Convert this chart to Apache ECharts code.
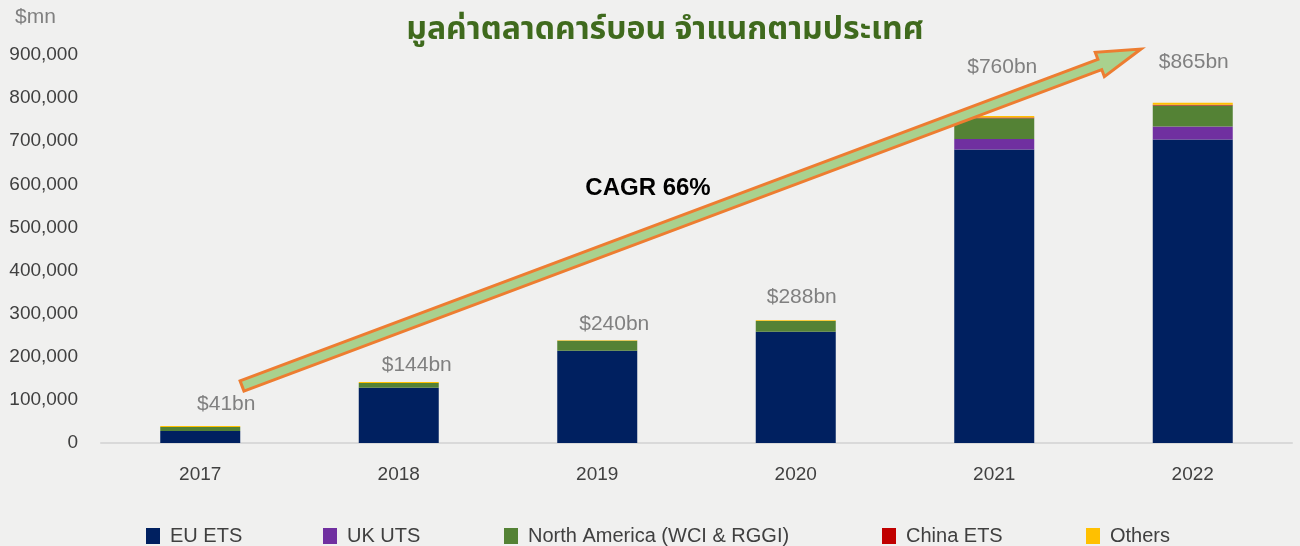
<!DOCTYPE html>
<html>
<head>
<meta charset="utf-8">
<script src="https://cdn.jsdelivr.net/npm/echarts@6/dist/echarts.min.js"></script>
<style>
  html, body { margin: 0; padding: 0; background: #f0f0ef; }
  #main { width: 1300px; height: 546px; }
</style>
</head>
<body>
<div id="main"></div>
<script>
// chart data ($mn)
var years = ["2017", "2018", "2019", "2020", "2021", "2022"];
var euEts = [28000, 128000, 214000, 258000, 681000, 704000];
var ukUts = [0, 0, 0, 0, 24000, 30000];
var northAmerica = [9000, 11000, 23000, 25000, 48000, 49000];
var chinaEts = [0, 0, 0, 0, 2000, 1500];
var others = [2500, 2500, 1500, 2000, 3500, 5000];
var totalLabels = ["$41bn", "$144bn", "$240bn", "$288bn", "$760bn", "$865bn"];
var seriesNames = ["EU ETS", "UK UTS", "North America (WCI & RGGI)", "China ETS", "Others"];

var FONT = "'Liberation Sans', Arial, Helvetica, sans-serif";
// where each total label sits relative to its bar top [dx, dy]
var labelShift = [[26, -6], [18, -1], [17, 0], [6, -7], [8, -33], [1, -25]];
// legend entries are spread unevenly in the original
var legendLeft = [146, 323, 504, 882, 1086];

var myChart = echarts.init(document.getElementById("main"));

function barSeries(name, values, color) {
  return {
    name: name,
    type: "bar",
    stack: "total",
    barWidth: 80,
    data: values,
    itemStyle: {
      color: color,
      borderWidth: 0
    }
  };
}

// arrow polygon, from tail to tip
function arrowPoints(tail, tip, shaftHalf, headHalf, headLen) {
  var dx = tip[0] - tail[0], dy = tip[1] - tail[1];
  var len = Math.sqrt(dx * dx + dy * dy);
  var ux = dx / len, uy = dy / len;
  var nx = -uy, ny = ux;
  var hx = tip[0] - ux * headLen, hy = tip[1] - uy * headLen;
  return [
    [tail[0] - nx * shaftHalf, tail[1] - ny * shaftHalf],
    [hx - nx * shaftHalf, hy - ny * shaftHalf],
    [hx - nx * headHalf, hy - ny * headHalf],
    tip,
    [hx + nx * headHalf, hy + ny * headHalf],
    [hx + nx * shaftHalf, hy + ny * shaftHalf],
    [tail[0] + nx * shaftHalf, tail[1] + ny * shaftHalf]
  ];
}

var othersSeries = barSeries("Others", [], "#ffc000");
othersSeries.data = others.map(function(v, i) {
  return {
    value: v,
    label: {
      show: true,
      position: "top",
      distance: 5,
      offset: labelShift[i],
      formatter: totalLabels[i],
      color: "#808080",
      fontSize: 21,
      fontFamily: FONT
    }
  };
});

var legends = seriesNames.map(function(name, i) {
  return {
    left: legendLeft[i],
    top: 526,
    padding: 0,
    itemWidth: 14,
    itemHeight: 16,
    icon: "rect",
    selectedMode: false,
    textStyle: {
      color: "#404040",
      fontSize: 20,
      fontFamily: FONT,
      padding: [0, 0, 0, 5]
    },
    data: [name]
  };
});

var option = {
  backgroundColor: "#f0f0ef",
  animation: false,
  grid: {
    left: 101,
    right: 8,
    top: 55,
    bottom: 103,
    containLabel: false
  },
  legend: legends,
  xAxis: {
    type: "category",
    data: years,
    axisLine: { lineStyle: { color: "#d9d9d9", width: 2 } },
    axisTick: { show: false },
    axisLabel: {
      color: "#404040",
      fontSize: 19,
      fontFamily: FONT,
      margin: 22
    }
  },
  yAxis: {
    type: "value",
    min: 0,
    max: 900000,
    interval: 100000,
    splitLine: { show: false },
    axisLine: { show: false },
    axisTick: { show: false },
    axisLabel: {
      color: "#404040",
      fontSize: 19,
      fontFamily: FONT,
      margin: 23,
      formatter: function(v) {
        return v.toLocaleString("en-US");
      }
    }
  },
  graphic: [
    {
      type: "text",
      left: 15,
      top: 7,
      style: {
        text: "$mn",
        fill: "#808080",
        fontSize: 21,
        fontFamily: FONT
      }
    },
    {
      type: "text",
      x: 665,
      y: 33,
      style: {
        text: "มูลค่าตลาดคาร์บอน จำแนกตามประเทศ",
        fill: "#3f6a1d",
        fontSize: 32,
        fontWeight: "bold",
        fontFamily: "'Noto Sans Thai', 'Noto Sans', sans-serif",
        align: "center",
        verticalAlign: "middle"
      }
    },
    {
      type: "polygon",
      z: 10,
      shape: { points: arrowPoints([242, 386], [1141, 49], 5.5, 13, 44) },
      style: {
        fill: "#a9d18e",
        stroke: "#ed7d31",
        lineWidth: 3,
        lineJoin: "miter"
      }
    },
    {
      type: "text",
      x: 648,
      y: 188,
      z: 11,
      style: {
        text: "CAGR 66%",
        fill: "#000000",
        fontSize: 24,
        fontWeight: "bold",
        fontFamily: FONT,
        align: "center",
        verticalAlign: "middle"
      }
    }
  ],
  series: [
    barSeries(seriesNames[0], euEts, "#002060"),
    barSeries(seriesNames[1], ukUts, "#7030a0"),
    barSeries(seriesNames[2], northAmerica, "#548235"),
    barSeries(seriesNames[3], chinaEts, "#c00000"),
    othersSeries
  ]
};

myChart.setOption(option);
</script>
</body>
</html>
